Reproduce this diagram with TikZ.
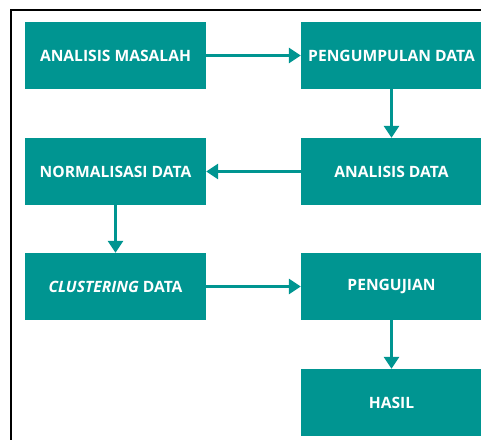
\documentclass[tikz,border=0pt]{standalone}
\usepackage{fontspec}
\setmainfont{Open Sans}
\usetikzlibrary{arrows.meta}
\definecolor{teal}{RGB}{0,149,145}

\tikzset{
  stepbox/.style={fill=teal, minimum width=181pt, minimum height=67pt,
    inner sep=0pt, text=white, font=\fontsize{15.6}{18}\selectfont\bfseries},
  flow/.style={draw=teal, line width=3pt,
    -{Triangle[length=12pt,width=15pt]}}
}

\begin{document}
\begin{tikzpicture}[x=1pt,y=-1pt]
%\draw[help lines] (0,0) grid (481,439);
\useasboundingbox (0,0) rectangle (481,439);
\clip (0,0) rectangle (481,439);

% outer frame
\draw[line width=2pt] (11,9.5) rectangle (520,480);

\node[stepbox] (masalah) at (115.5,55.5) {ANALISIS MASALAH};
\node[stepbox] (kumpul)  at (391.5,55.5) {PENGUMPULAN DATA};
\node[stepbox] (analisis) at (391.5,171.5) {ANALISIS DATA};
\node[stepbox] (normal)  at (115.5,171.5) {NORMALISASI DATA};
\node[stepbox] (cluster) at (115.5,286.5) {\textit{CLUSTERING} DATA};
\node[stepbox] (uji)     at (391.5,286.5) {PENGUJIAN};
\node[stepbox] (hasil)   at (391.5,402.5) {HASIL};

\draw[flow] (masalah.east) -- (kumpul.west);
\draw[flow] (kumpul.south) -- (analisis.north);
\draw[flow] (analisis.west) -- (normal.east);
\draw[flow] (normal.south) -- (cluster.north);
\draw[flow] (cluster.east) -- (uji.west);
\draw[flow] (uji.south) -- (hasil.north);
\end{tikzpicture}
\end{document}
